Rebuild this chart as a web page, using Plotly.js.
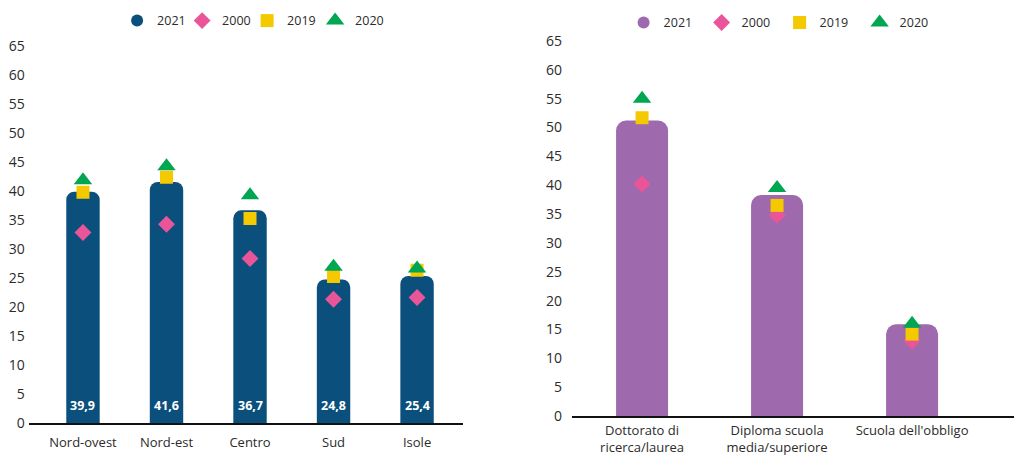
<!DOCTYPE html>
<html><head><meta charset="utf-8">
<script src="https://cdn.plot.ly/plotly-3.0.1.min.js"></script>
<style>html,body{margin:0;padding:0;background:#fff;} #chart{width:1014px;height:456px;}</style>
</head><body><div id="chart"></div>
<script>
// ---- data ----
const regions = ['Nord-ovest', 'Nord-est', 'Centro', 'Sud', 'Isole'];
const regions2021 = [39.9, 41.6, 36.7, 24.8, 25.4];
const regions2000 = [32.9, 34.3, 28.4, 21.4, 21.7];
const regions2019 = [39.8, 42.4, 35.3, 25.3, 26.4];
const regions2020 = [41.9, 44.3, 39.3, 27.0, 26.7];

const education = ['Dottorato di<br>ricerca/laurea', 'Diploma scuola<br>media/superiore', "Scuola dell'obbligo"];
const education2021 = [51.2, 38.3, 15.9];
const education2000 = [40.2, 34.8, 13.0];
const education2019 = [51.7, 36.5, 14.2];
const education2020 = [55.0, 39.5, 16.0];

const seriesNames = ['2021', '2000', '2019', '2020'];
const yTickVals = [0, 5, 10, 15, 20, 25, 30, 35, 40, 45, 50, 55, 60, 65];

// ---- styles ----
const FONT = 'Open Sans, Noto Sans, sans-serif';
const NAVY = '#0b4f7c', PURPLE = '#9f69ad', PINK = '#ea5599', YELLOW = '#f4c900', GREEN = '#00a651';
const TXT = '#2b2b2b';

function fmt(v) { return v.toFixed(1).replace('.', ','); }

function panel(cats, v21, v00, v19, v20, barColor, xa, ya, leg, barWidth, radius, widths) {
  return [
    {type: 'bar', x: cats, y: v21, xaxis: xa, yaxis: ya, width: barWidth,
     marker: {color: barColor, cornerradius: radius}, showlegend: false, hoverinfo: 'skip'},
    {type: 'scatter', mode: 'markers', x: [null], y: [null], xaxis: xa, yaxis: ya,
     name: seriesNames[0], legend: leg, legendwidth: widths[0],
     marker: {symbol: 'circle', size: 12, color: barColor}},
    {type: 'scatter', mode: 'markers', x: cats, y: v00, xaxis: xa, yaxis: ya,
     name: seriesNames[1], legend: leg, legendwidth: widths[1],
     marker: {symbol: 'diamond', size: 13, color: PINK}},
    {type: 'scatter', mode: 'markers', x: cats, y: v19, xaxis: xa, yaxis: ya,
     name: seriesNames[2], legend: leg, legendwidth: widths[2],
     marker: {symbol: 'square', size: 13, color: YELLOW}},
    {type: 'scatter', mode: 'markers', x: cats, y: v20, xaxis: xa, yaxis: ya,
     name: seriesNames[3], legend: leg, legendwidth: widths[3],
     marker: {symbol: 'triangle-up', size: 16, color: GREEN}}
  ];
}

const data = [].concat(
  panel(regions, regions2021, regions2000, regions2019, regions2020, NAVY, 'x', 'y', 'legend', 0.4, 8, [20, 20, 23, 34]),
  panel(education, education2021, education2000, education2019, education2020, PURPLE, 'x2', 'y2', 'legend2', 0.385, 10, [33, 33, 35, 34])
);

const annotations = regions.map((c, i) => ({
  x: c, y: 0, xref: 'x', yref: 'y', yshift: 18, showarrow: false,
  text: '<b>' + fmt(regions2021[i]) + '</b>',
  font: {family: FONT, size: 12.5, color: '#ffffff'}
}));

function yAxis(domain, anchor, standoff) {
  return {domain: domain, anchor: anchor, range: [0, 65], tickvals: yTickVals, showgrid: false, zeroline: false,
          showline: false, ticks: '', ticklabelstandoff: standoff, fixedrange: true, automargin: false,
          tickfont: {family: FONT, size: 14, color: TXT}};
}
function xAxis(domain, range, anchor, standoff) {
  return {domain: domain, range: range, anchor: anchor, showgrid: false, zeroline: false,
          showline: true, linecolor: '#111111', linewidth: 2, ticks: '', automargin: false,
          ticklabelstandoff: standoff, tickfont: {family: FONT, size: 13, color: TXT}};
}

const layout = {
  width: 1014, height: 456,
  margin: {l: 0, r: 0, t: 0, b: 0},
  paper_bgcolor: '#ffffff', plot_bgcolor: '#ffffff',
  separators: ',.',
  font: {family: FONT, color: TXT},
  xaxis: xAxis([0.0283, 0.4566], [-0.65, 4.55], 'y', 6),
  yaxis: yAxis([0.0713, 0.8991], 'x', 3),
  xaxis2: xAxis([0.5641, 1.0], [-0.519, 2.755], 'y2', 1),
  yaxis2: yAxis([0.0877, 0.9101], 'x2', 9),
  legend: {orientation: 'h', x: 0.1155, xanchor: 'left', y: 0.954, yanchor: 'middle',
           font: {family: FONT, size: 12.5, color: TXT}, bgcolor: 'rgba(0,0,0,0)', traceorder: 'normal'},
  legend2: {orientation: 'h', x: 0.615, xanchor: 'left', y: 0.95, yanchor: 'middle',
           font: {family: FONT, size: 12.5, color: TXT}, bgcolor: 'rgba(0,0,0,0)', traceorder: 'normal'},
  annotations: annotations,
  showlegend: true
};

Plotly.newPlot('chart', data, layout, {displayModeBar: false, staticPlot: true});
</script>
</body></html>
